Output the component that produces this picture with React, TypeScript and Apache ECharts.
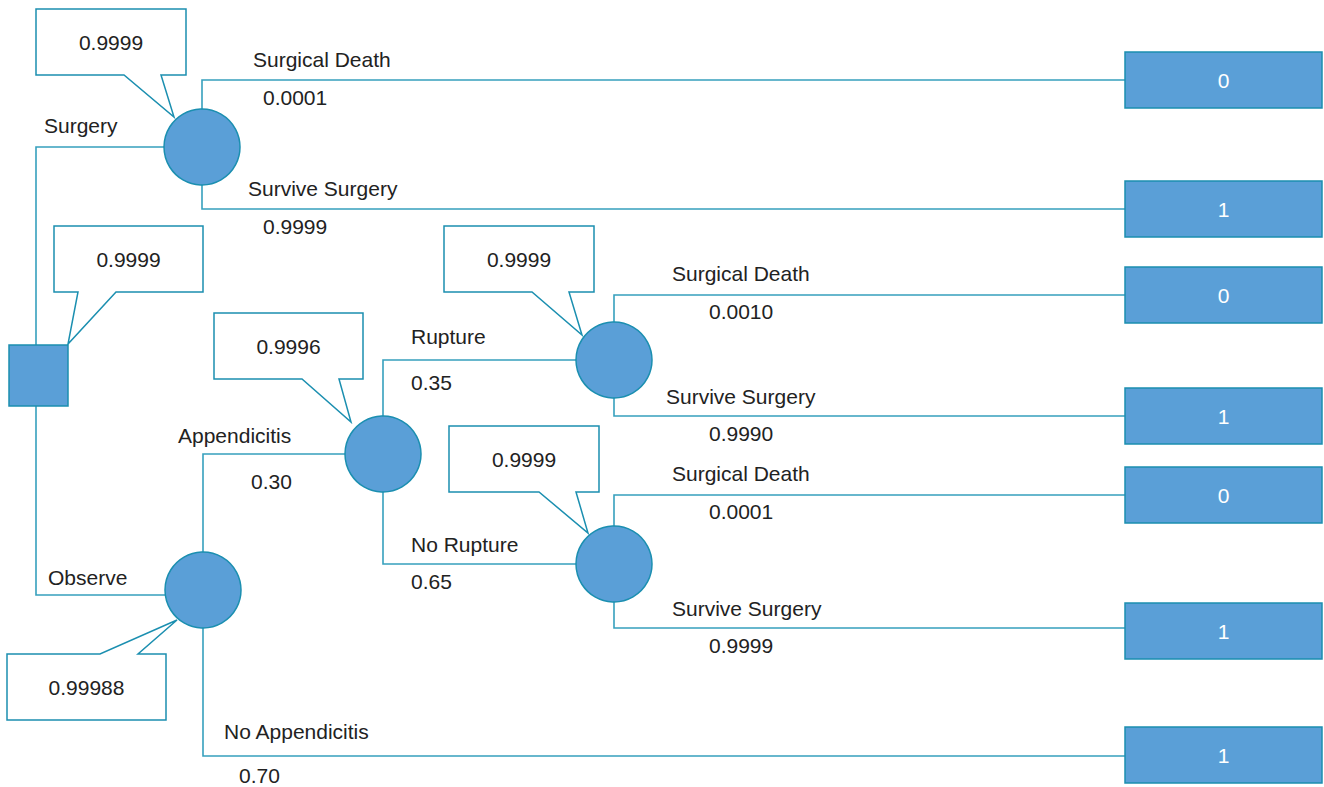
import React, { useEffect, useRef } from "react";
import * as echarts from "echarts";

// ---------- DATA ----------
const nodeNames = ["Decision", "Surgery", "Observe", "Appendicitis", "Rupture", "No Rupture"];
const nodeTypes = ["decision", "chance", "chance", "chance", "chance", "chance"];
const nodeValues = ["0.9999", "0.9999", "0.99988", "0.9996", "0.9999", "0.9999"];

const branchFrom = [0, 0, 1, 1, 2, 2, 3, 3, 4, 4, 5, 5];
const branchTo = [1, 2, -1, -1, 3, -1, 4, 5, -1, -1, -1, -1]; // -1 = terminal
const branchLabels = [
  "Surgery", "Observe",
  "Surgical Death", "Survive Surgery",
  "Appendicitis", "No Appendicitis",
  "Rupture", "No Rupture",
  "Surgical Death", "Survive Surgery",
  "Surgical Death", "Survive Surgery",
];
const branchProbs = ["", "", "0.0001", "0.9999", "0.30", "0.70", "0.35", "0.65", "0.0010", "0.9990", "0.0001", "0.9999"];
const terminalBranches = [2, 3, 8, 9, 10, 11, 5];
const terminalPayoffs = ["0", "1", "0", "1", "0", "1", "1"];

// ---------- LAYOUT (positions in diagram units = pixels) ----------
const nodePos = [[38.5, 375.5], [202, 147], [203, 590], [383, 454], [614, 360], [614, 564]];
const branchX = [36, 36, 202, 202, 203, 203, 383, 383, 614, 614, 614, 614];
const branchY = [147, 595, 80, 209, 454, 756, 360, 564, 295, 416, 495, 628];
const labelPos = [[44, 125], [48, 577], [253, 59], [248, 188], [178, 435], [224, 731], [411, 336], [411, 544], [672, 273], [666, 396], [672, 473], [672, 608]];
const probPos = [[0, 0], [0, 0], [263, 97], [263, 226], [251, 481], [239, 775], [411, 382], [411, 581], [709, 311], [709, 433], [709, 511], [709, 645]];
const terminalY = [80, 209, 295, 416, 495, 631, 755];
const terminalLeft = 1125;
const terminalRight = 1322;
const terminalH = 56;
// callout: box [x0,y0,x1,y1], pointer base [a,b], tip [tx,ty], side
const calloutBox = [[36, 9, 186, 75], [54, 226, 203, 292], [7, 654, 166, 720], [214, 313, 363, 379], [444, 226, 594, 292], [449, 426, 599, 492]];
const calloutBase = [[124, 161], [78, 116], [100, 138], [302, 339], [532, 569], [539, 576]];
const calloutTip = [[174, 117], [68, 344], [177, 620], [351, 422], [582, 335], [588, 533]];
const calloutSide = ["bottom", "bottom", "top", "bottom", "bottom", "bottom"];
const calloutNode = [1, 0, 2, 3, 4, 5];

const FILL = "#5a9fd7";
const STROKE = "#1b8fb0";
const LINE = "#36a0bd";
const TEXT = "#222222";
const FONT = "'Liberation Sans', Arial, Helvetica, sans-serif";
const FS = 21;

export default function App() {
  const ref = useRef<HTMLDivElement>(null);
  useEffect(() => {
    document.body.style.margin = "0";
    const chart = echarts.init(ref.current!, null, { renderer: "svg" });

    const pt = (api: any, x: number, y: number) => api.coord([x, y]);

    const option: any = {
      animation: false,
      backgroundColor: "#ffffff",
      grid: { left: 0, right: 0, top: 0, bottom: 0 },
      xAxis: { type: "value", min: 0, max: 1324, show: false },
      yAxis: { type: "value", min: 0, max: 787, inverse: true, show: false },
      series: [
        // branch lines
        {
          type: "custom",
          coordinateSystem: "cartesian2d",
          clip: false,
          z: 1,
          data: branchFrom.map((f, i) => [branchX[i], branchY[i]]),
          renderItem: (params: any, api: any) => {
            const i = params.dataIndex;
            const f = branchFrom[i];
            const t = branchTo[i];
            const x0 = branchX[i];
            const y0 = nodePos[f][1];
            const yb = branchY[i];
            const x1 = t >= 0 ? nodePos[t][0] : terminalLeft;
            const points = [pt(api, x0, y0), pt(api, x0, yb), pt(api, x1, yb)];
            return {
              type: "polyline",
              shape: { points },
              style: { stroke: LINE, lineWidth: 1.6, fill: "none" },
            };
          },
        },
        // branch labels + probabilities
        {
          type: "custom",
          coordinateSystem: "cartesian2d",
          clip: false,
          z: 3,
          data: branchLabels.map((_, i) => [labelPos[i][0], labelPos[i][1]]),
          renderItem: (params: any, api: any) => {
            const i = params.dataIndex;
            const lp = pt(api, labelPos[i][0], labelPos[i][1]);
            const children: any[] = [
              {
                type: "text",
                x: lp[0],
                y: lp[1],
                style: { text: branchLabels[i], fill: TEXT, font: `${FS}px ${FONT}`, textAlign: "left", textVerticalAlign: "middle" },
              },
            ];
            if (branchProbs[i]) {
              const pp = pt(api, probPos[i][0], probPos[i][1]);
              children.push({
                type: "text",
                x: pp[0],
                y: pp[1],
                style: { text: branchProbs[i], fill: TEXT, font: `${FS}px ${FONT}`, textAlign: "left", textVerticalAlign: "middle" },
              });
            }
            return { type: "group", children };
          },
        },
        // nodes
        {
          type: "custom",
          coordinateSystem: "cartesian2d",
          clip: false,
          z: 4,
          data: nodeNames.map((_, i) => [nodePos[i][0], nodePos[i][1]]),
          renderItem: (params: any, api: any) => {
            const i = params.dataIndex;
            const c = api.coord([api.value(0), api.value(1)]);
            if (nodeTypes[i] === "decision") {
              const s = api.size([59, 61]);
              return {
                type: "rect",
                shape: { x: c[0] - s[0] / 2, y: c[1] - s[1] / 2, width: s[0], height: s[1] },
                style: { fill: FILL, stroke: STROKE, lineWidth: 1.5 },
              };
            }
            const r = api.size([38, 38])[0];
            return {
              type: "circle",
              shape: { cx: c[0], cy: c[1], r },
              style: { fill: FILL, stroke: STROKE, lineWidth: 1.5 },
            };
          },
        },
        // terminals
        {
          type: "custom",
          coordinateSystem: "cartesian2d",
          clip: false,
          z: 4,
          data: terminalPayoffs.map((_, i) => [terminalLeft, terminalY[i]]),
          renderItem: (params: any, api: any) => {
            const i = params.dataIndex;
            const a = pt(api, terminalLeft, terminalY[i] - terminalH / 2);
            const b = pt(api, terminalRight, terminalY[i] + terminalH / 2);
            return {
              type: "group",
              children: [
                {
                  type: "rect",
                  shape: { x: a[0], y: a[1], width: b[0] - a[0], height: b[1] - a[1] },
                  style: { fill: FILL, stroke: STROKE, lineWidth: 1.5 },
                },
                {
                  type: "text",
                  x: (a[0] + b[0]) / 2,
                  y: (a[1] + b[1]) / 2,
                  style: { text: terminalPayoffs[i], fill: "#ffffff", font: `${FS}px ${FONT}`, textAlign: "center", textVerticalAlign: "middle" },
                },
              ],
            };
          },
        },
        // callouts with expected values
        {
          type: "custom",
          coordinateSystem: "cartesian2d",
          clip: false,
          z: 5,
          data: calloutBox.map((b) => [b[0], b[1]]),
          renderItem: (params: any, api: any) => {
            const i = params.dataIndex;
            const [x0, y0, x1, y1] = calloutBox[i];
            const [ba, bb] = calloutBase[i];
            const [tx, ty] = calloutTip[i];
            let raw: number[][];
            if (calloutSide[i] === "bottom") {
              raw = [[x0, y0], [x1, y0], [x1, y1], [bb, y1], [tx, ty], [ba, y1], [x0, y1]];
            } else {
              raw = [[x0, y0], [ba, y0], [tx, ty], [bb, y0], [x1, y0], [x1, y1], [x0, y1]];
            }
            const points = raw.map((p) => pt(api, p[0], p[1]));
            const c = pt(api, (x0 + x1) / 2, (y0 + y1) / 2);
            return {
              type: "group",
              children: [
                {
                  type: "polygon",
                  shape: { points },
                  style: { fill: "#ffffff", stroke: STROKE, lineWidth: 1.5 },
                },
                {
                  type: "text",
                  x: c[0],
                  y: c[1],
                  style: { text: nodeValues[calloutNode[i]], fill: TEXT, font: `${FS}px ${FONT}`, textAlign: "center", textVerticalAlign: "middle" },
                },
              ],
            };
          },
        },
      ],
    };
    chart.setOption(option);
    return () => chart.dispose();
  }, []);
  return <div ref={ref} style={{ width: 1324, height: 787 }} />;
}
